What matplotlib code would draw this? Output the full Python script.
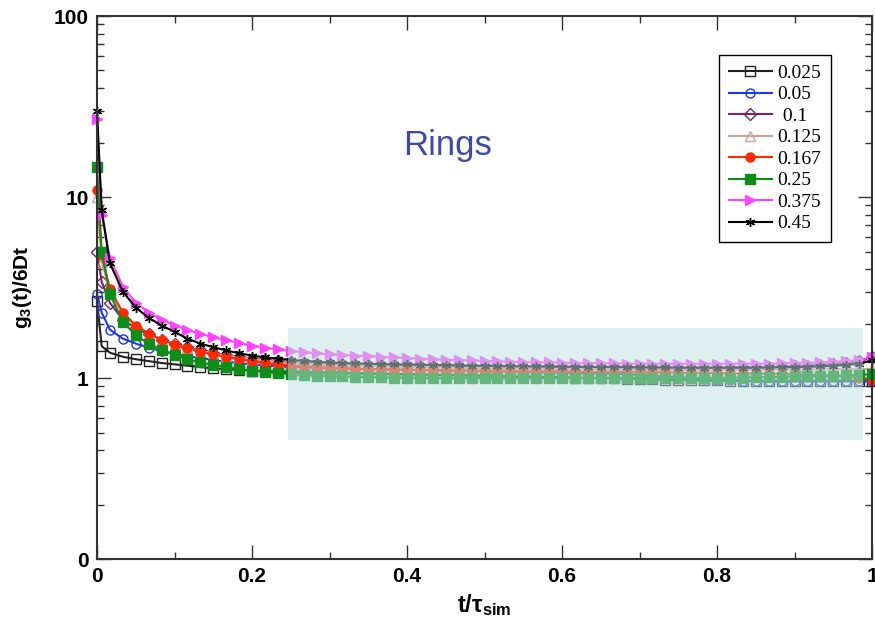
import numpy as np
import matplotlib as mpl
mpl.use('Agg')
import matplotlib.pyplot as plt
from matplotlib.patches import Rectangle

# sampling times t/tau_sim (one extra early point near t=0)
t = np.r_[0.0, 0.006, np.arange(1, 61) / 60.0]

labels = ['0.025', '0.05', ' 0.1', '0.125', '0.167', '0.25', '0.375', '0.45']

g_0025 = [2.66, 1.50, 1.38, 1.31, 1.27, 1.24, 1.21, 1.19, 1.17, 1.15,
          1.13, 1.12, 1.11, 1.10, 1.09, 1.085, 1.08,
          1.075, 1.07, 1.07, 1.065, 1.06, 1.06, 1.055, 1.05, 1.05, 1.045,
          1.04, 1.04, 1.035, 1.03, 1.03,
          1.025, 1.02, 1.02, 1.015, 1.01, 1.01, 1.005, 1.0, 1.0, 0.995,
          0.99, 0.99, 0.985, 0.98, 0.98, 0.975, 0.97, 0.97, 0.965, 0.965,
          0.96, 0.96, 0.96, 0.96, 0.96, 0.96, 0.96, 0.96, 0.96, 0.96]
g_005 = [2.9, 2.3, 1.85, 1.65, 1.55, 1.47, 1.41, 1.36, 1.32, 1.29,
         1.26, 1.23, 1.21, 1.19, 1.175, 1.16, 1.15, 1.145, 1.14, 1.135,
         1.13, 1.125,
         1.12, 1.12, 1.115, 1.11, 1.11, 1.105, 1.10, 1.10, 1.095, 1.09,
         1.09, 1.085, 1.08, 1.08, 1.075, 1.07, 1.07, 1.065, 1.06, 1.06,
         1.05, 1.04, 1.03, 1.02, 1.01, 1.0, 0.99, 0.98, 0.97, 0.965,
         0.96, 0.96, 0.96, 0.96, 0.96, 0.96, 0.96, 0.96, 0.96, 0.96]
g_01 = [5.0, 3.4, 2.6, 2.1, 1.88, 1.74, 1.63, 1.55, 1.48, 1.43,
        1.38, 1.34, 1.31, 1.28, 1.26, 1.24, 1.22,
        1.21, 1.2, 1.195, 1.19, 1.185, 1.18, 1.18, 1.175, 1.17, 1.17,
        1.17, 1.165, 1.165, 1.16, 1.16,
        1.16, 1.155, 1.155, 1.155, 1.15, 1.15, 1.15, 1.15, 1.145, 1.145,
        1.145, 1.14, 1.14, 1.14, 1.14, 1.14, 1.14, 1.14, 1.14, 1.145,
        1.145, 1.15, 1.155, 1.16, 1.17, 1.18, 1.19, 1.21, 1.24, 1.3]
g_0125 = [10.0, 4.4, 3.0, 2.25, 1.95, 1.76, 1.63, 1.54, 1.47, 1.41,
          1.37, 1.33, 1.30, 1.27, 1.25, 1.23, 1.21,
          1.2, 1.19, 1.18, 1.175, 1.17, 1.165, 1.16, 1.155, 1.15, 1.15,
          1.145, 1.14, 1.14, 1.135, 1.135,
          1.13, 1.13, 1.13, 1.125, 1.125, 1.12, 1.12, 1.12, 1.12, 1.115,
          1.115, 1.115, 1.11, 1.11, 1.11, 1.11, 1.11, 1.11, 1.11, 1.11,
          1.11, 1.11, 1.11, 1.11, 1.115, 1.115, 1.12, 1.12, 1.12, 1.12]
g_0167 = [10.9, 4.8, 3.1, 2.3, 1.95, 1.76, 1.63, 1.53, 1.46, 1.40,
          1.35, 1.31, 1.27, 1.24, 1.21, 1.19, 1.17, 1.16, 1.15, 1.14,
          1.13, 1.125, 1.12, 1.115,
          1.11, 1.11, 1.105, 1.105, 1.10, 1.10, 1.10, 1.10,
          1.095, 1.095, 1.09, 1.09, 1.09, 1.09, 1.085, 1.085, 1.08, 1.08,
          1.08, 1.08, 1.075, 1.075, 1.07, 1.07, 1.07, 1.065, 1.06, 1.06,
          1.06, 1.055, 1.05, 1.05, 1.04, 1.04, 1.03, 1.02, 1.0, 0.97]
g_025 = [14.6, 5.0, 2.9, 2.05, 1.72, 1.55, 1.43, 1.34, 1.27, 1.22,
         1.18, 1.15, 1.12, 1.10, 1.08, 1.065, 1.05, 1.04, 1.03, 1.025,
         1.02, 1.015,
         1.01, 1.01, 1.005, 1.005, 1.0, 1.0, 1.0, 1.0, 1.0, 1.0,
         1.0, 1.0, 1.0, 1.0, 1.0, 1.0, 1.0, 1.0, 1.0, 1.0,
         1.0, 1.0, 1.0, 1.0, 1.0, 1.0, 1.0, 1.0, 1.005, 1.005,
         1.01, 1.01, 1.015, 1.02, 1.02, 1.025, 1.03, 1.035, 1.04, 1.05]
g_0375 = [27.0, 8.0, 4.6, 3.2, 2.6, 2.3, 2.1, 1.95, 1.84, 1.75,
          1.68, 1.62, 1.56, 1.51, 1.47, 1.44, 1.41, 1.39, 1.37, 1.35,
          1.34, 1.33, 1.32, 1.31, 1.30, 1.29, 1.28, 1.27, 1.26, 1.255,
          1.25, 1.24,
          1.235, 1.23, 1.225, 1.22, 1.22, 1.215, 1.21, 1.21, 1.21, 1.205,
          1.2, 1.2, 1.2, 1.2, 1.2, 1.2, 1.2, 1.2, 1.2, 1.2,
          1.2, 1.2, 1.205, 1.21, 1.215, 1.22, 1.23, 1.24, 1.26, 1.3]
g_045 = [30.0, 8.5, 4.3, 3.0, 2.45, 2.15, 1.95, 1.80, 1.65, 1.55,
         1.48, 1.42, 1.37, 1.33, 1.30, 1.28, 1.26, 1.245, 1.23, 1.22,
         1.21, 1.205, 1.20, 1.195, 1.19, 1.19, 1.185, 1.18, 1.18, 1.175,
         1.17, 1.17,
         1.165, 1.165, 1.16, 1.16, 1.16, 1.155, 1.155, 1.15, 1.15, 1.15,
         1.15, 1.145, 1.145, 1.145, 1.14, 1.14, 1.14, 1.14, 1.14, 1.14,
         1.14, 1.145, 1.15, 1.15, 1.155, 1.16, 1.17, 1.18, 1.2, 1.25]

series = [g_0025, g_005, g_01, g_0125, g_0167, g_025, g_0375, g_045]

colors = ['#222222', '#2038e0', '#7a2468', '#cfa29a', '#ff2a00', '#0f8c1a',
          '#ff44ff', '#000000']
markers = ['s', 'o', 'D', '^', 'o', 's', '>', (6, 2, 0)]
filled = [False, False, False, False, True, True, True, True]

# plateau window marked on the plot
box_t = (0.246, 0.988)
box_g = (0.454, 1.89)


def set_ticks(xx):
	xx.tick_params(which='both', direction='in', top=True, right=True,
		color='#333333', width=1.0)
	xx.tick_params(which='major', length=10, labelsize=15, pad=6)
	xx.tick_params(which='minor', length=5)
	for lab in xx.get_xticklabels() + xx.get_yticklabels():
		lab.set_fontweight('bold')


def main():
	plt.rcParams['font.family'] = ['Liberation Sans', 'DejaVu Sans']
	plt.rcParams['mathtext.default'] = 'regular'

	fig = plt.figure(figsize=(8.75, 6.23), dpi=100)
	ax = fig.add_axes([0.1109, 0.1027, 0.8857, 0.8716])

	for g, lab, c, m, f in zip(series, labels, colors, markers, filled):
		ax.plot(t, g, color=c, marker=m, markersize=6.5, lw=1.5,
			markerfacecolor=c if f else 'none', markeredgecolor=c,
			markeredgewidth=1.0, label=lab, clip_on=False)

	ax.add_patch(Rectangle((box_t[0], box_g[0]), box_t[1] - box_t[0],
		box_g[1] - box_g[0], facecolor='#bce0e0', alpha=0.5,
		edgecolor='none', zorder=10))

	ax.set_yscale('log')
	ax.set_xlim(0, 1)
	ax.set_ylim(0.1, 100)
	ax.set_yticks([0.1, 1, 10, 100])
	ax.set_yticklabels(['0', '1', '10', '100'])
	ax.set_xticks([0, 0.2, 0.4, 0.6, 0.8, 1.0])
	ax.set_xticklabels(['0', '0.2', '0.4', '0.6', '0.8', '1'])
	ax.xaxis.set_minor_locator(mpl.ticker.MultipleLocator(0.1))
	set_ticks(ax)

	for s in ax.spines.values():
		s.set_linewidth(1.5)
		s.set_color('#333333')

	ax.set_ylabel('g$_3$(t)/6Dt', fontsize=15, fontweight='bold', labelpad=14)
	ax.set_xlabel('t/τ$_{sim}$', fontsize=17, fontweight='bold', labelpad=4)

	ax.text(0.452, 0.762, 'Rings', transform=ax.transAxes, fontsize=25,
		color='#3f4aa8', ha='center', va='center', zorder=12)

	leg = ax.legend(loc='upper right', bbox_to_anchor=(0.96, 0.947),
		prop={'family': 'Liberation Serif', 'size': 14}, frameon=True,
		fancybox=False, edgecolor='black', framealpha=1, handlelength=2.2,
		labelspacing=0.2, borderpad=0.5, handletextpad=0.3)
	leg.get_frame().set_linewidth(1.0)

	fig.savefig('out.png', dpi=100)


if __name__ == '__main__':
	main()
